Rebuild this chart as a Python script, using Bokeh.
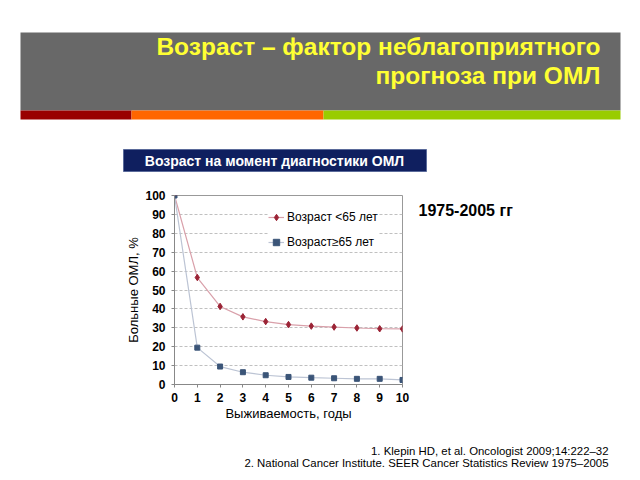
from bokeh.plotting import figure
from bokeh.models import Range1d, FixedTicker
from bokeh.layouts import column, row
from bokeh.core.properties import value
from bokeh.embed import file_html
from bokeh.resources import INLINE

# ---- data ----
years = [0, 1, 2, 3, 4, 5, 6, 7, 8, 9, 10]
under65 = [100, 56.6, 41.3, 35.8, 33.3, 31.7, 30.9, 30.4, 29.9, 29.5, 29.4]
over65 = [100, 19.5, 9.5, 6.5, 4.9, 4.0, 3.6, 3.3, 3.0, 3.0, 2.4]
series_names = ["Возраст <65 лет", "Возраст≥65 лет"]
y_ticks = [0, 10, 20, 30, 40, 50, 60, 70, 80, 90, 100]
x_ticks = [0, 1, 2, 3, 4, 5, 6, 7, 8, 9, 10]

title_lines = ["Возраст – фактор неблагоприятного", "прогноза при ОМЛ"]
subtitle = "Возраст на момент диагностики ОМЛ"
period = "1975-2005 гг"
refs = ["1. Klepin HD, et al. Oncologist 2009;14:222–32",
        "2. National Cancer Institute. SEER Cancer Statistics Review 1975–2005"]
x_label = "Выживаемость, годы"
y_label = "Больные ОМЛ, %"

FONT_NAME = "Liberation Sans"
FONT = value(FONT_NAME)


def canvas(w, h):
    f = figure(width=w, height=h, x_range=Range1d(0, w), y_range=Range1d(h, 0),
               toolbar_location=None, output_backend="svg",
               x_axis_location=None, y_axis_location=None, min_border=0)
    f.grid.visible = False
    f.outline_line_color = None
    f.background_fill_color = "white"
    f.border_fill_color = "white"
    return f


# ---- top decoration ----
top = canvas(640, 185)
top.quad(left=[20], right=[620], top=[32], bottom=[110], fill_color="#686868", line_color=None)
top.quad(left=[20, 131, 323], right=[131, 323, 620], top=[110, 110, 110], bottom=[119, 119, 119],
         fill_color=["#990000", "#ff6600", "#99cc00"], line_color=None)
top.text(x=[600, 600], y=[46, 75], text=title_lines, text_font=FONT, text_font_style="bold",
         text_font_size="24.5px", text_align="right", text_baseline="middle", text_color="#ffff33")
top.quad(left=[123], right=[426], top=[149], bottom=[171], fill_color="#0f1f5f",
         line_color="#5a6a9a", line_width=1)
top.text(x=[274], y=[160], text=[subtitle], text_font=FONT, text_font_style="bold",
         text_font_size="14px", text_align="center", text_baseline="middle", text_color="white")

# ---- chart ----
p = figure(width=410, height=245, x_range=Range1d(0, 10), y_range=Range1d(0, 100),
           toolbar_location=None, output_backend="svg",
           min_border_left=174, min_border_right=8, min_border_top=10, min_border_bottom=46)
p.background_fill_color = "white"
p.border_fill_color = "white"
p.outline_line_color = "#999999"
p.xgrid.visible = False
p.ygrid.ticker = FixedTicker(ticks=y_ticks)
p.ygrid.grid_line_color = "#c0c0c0"
p.ygrid.grid_line_dash = "3 2"
p.xaxis.ticker = FixedTicker(ticks=x_ticks)
p.yaxis.ticker = FixedTicker(ticks=y_ticks)
for ax in (p.xaxis, p.yaxis):
    ax.axis_line_color = "#888888"
    ax.major_tick_line_color = "#888888"
    ax.major_tick_out = 3
    ax.major_tick_in = 0
    ax.minor_tick_out = 0
    ax.minor_tick_in = 0
    ax.major_label_text_font = FONT_NAME
    ax.major_label_text_font_style = "bold"
    ax.major_label_text_font_size = "12px"
    ax.major_label_text_color = "black"
    ax.axis_label_text_font = FONT_NAME
    ax.axis_label_text_font_style = "normal"
    ax.axis_label_text_font_size = "13px"
    ax.axis_label_text_color = "black"
p.xaxis.axis_label = x_label
p.yaxis.axis_label = y_label
p.xaxis.major_label_standoff = 5
p.yaxis.major_label_standoff = 6
p.xaxis.axis_label_standoff = 1
p.yaxis.axis_label_standoff = 1

p.line(years, under65, line_color="#d9a0aa", line_width=1.2, legend_label=series_names[0])
p.scatter(years, under65, marker="diamond", size=6.5, fill_color="#9b2335", line_color="#9b2335",
          legend_label=series_names[0])
p.line(years, over65, line_color="#bcc4d4", line_width=1.2, legend_label=series_names[1])
p.scatter(years, over65, marker="square", size=5, fill_color="#3b5578", line_color="#3b5578",
          legend_label=series_names[1])

lg = p.legend[0]
lg.location = (94, 132)
lg.border_line_color = None
lg.background_fill_color = "white"
lg.background_fill_alpha = 1
lg.label_text_font = FONT_NAME
lg.label_text_font_size = "12px"
lg.label_text_color = "black"
lg.glyph_width = 16
lg.glyph_height = 20
lg.label_height = 20
lg.label_standoff = 3
lg.spacing = 5
lg.padding = 5
lg.margin = 0

# ---- right side ----
side = canvas(230, 245)
side.text(x=[8], y=[19], text=[period], text_font=FONT, text_font_style="bold",
          text_font_size="16px", text_align="left", text_baseline="middle", text_color="black")

# ---- bottom ----
bottom = canvas(640, 50)
bottom.text(x=[608, 608], y=[20, 32], text=refs, text_font=FONT, text_font_size="11.4px",
            text_align="right", text_baseline="middle", text_color="black")

layout = column(top, row(p, side, spacing=0), bottom, spacing=0)

open("out.html", "w").write(file_html(layout, INLINE))
